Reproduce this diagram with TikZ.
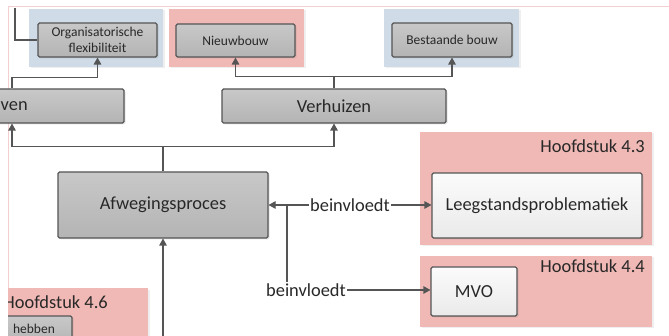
\documentclass[tikz,border=0pt]{standalone}
\usepackage{fontspec}
\setmainfont{Carlito}
\usepackage{tikz}
\usetikzlibrary{calc,positioning,arrows.meta,shadows}

\begin{document}
\begin{tikzpicture}[x=1pt,y=1pt,
  big/.style={font=\fontsize{18.4}{20}\selectfont},
  small/.style={font=\fontsize{13.5}{16}\selectfont},
  proc/.style={draw=lineColor,line width=1.1pt,rounded corners=1.5pt,top color=boxTop,bottom color=boxBot,text=textColor,inner sep=0pt,align=center,drop shadow={opacity=0.2,shadow xshift=1.5pt,shadow yshift=-1.5pt}},
  issue/.style={proc,top color=whiteTop,bottom color=whiteBot},
  area/.style={fill=#1,draw=none,inner sep=0pt,drop shadow={opacity=0.12,shadow xshift=1.5pt,shadow yshift=-1.5pt}},
  chap/.style={big,text=textColor,inner sep=0pt},
  conn/.style={draw=lineColor,line width=1.1pt},
  arr/.style={conn,-{Triangle[length=7pt,width=7.5pt]}}]
\definecolor{lineColor}{RGB}{85,85,85}
\definecolor{textColor}{RGB}{40,40,40}
\definecolor{boxTop}{RGB}{200,200,200}
\definecolor{boxBot}{RGB}{180,180,180}
\definecolor{whiteTop}{RGB}{251,251,251}
\definecolor{whiteBot}{RGB}{234,234,234}
\definecolor{pinkFill}{RGB}{240,185,181}
\definecolor{blueFill}{RGB}{207,219,230}
\definecolor{borderColor}{RGB}{243,208,208}
\path[use as bounding box,fill=white] (0,0) rectangle (669,336);
\begin{scope}
\path[clip] (0,0) rectangle (669,336);

\draw[borderColor,line width=1pt] (8,-20) -- (8,329) -- (700,329);

\node[area=blueFill,minimum width=134,minimum height=58] (regOrg) at (96,298) {};

\node[area=pinkFill,minimum width=135,minimum height=58] (regNieuw) at (236.5,298) {};

\node[area=blueFill,minimum width=135,minimum height=58] (regBest) at (451.5,298) {};

\node[area=pinkFill,minimum width=232,minimum height=113] (reg43) at (536,147.5) {};

\node[area=pinkFill,minimum width=232,minimum height=71] (reg44) at (536,44.5) {};

\node[proc,small,minimum width=119,minimum height=34] (org) at (97.5,296) {Organisatorische\\flexibiliteit};

\node[proc,small,minimum width=119,minimum height=33] (nieuw) at (235.5,295.5) {Nieuwbouw};

\node[proc,small,minimum width=120,minimum height=34] (best) at (452,296) {Bestaande bouw};

\node[proc,minimum width=224,minimum height=34] (ven) at (12,230) {};
\node[big,text=textColor,inner sep=0pt,anchor=west] (venText) at (0.5,230) {ven};

\node[proc,big,minimum width=224,minimum height=34] (verh) at (334,230) {Verhuizen};

\node[proc,big,minimum width=210,minimum height=66] (afweg) at (163,131) {Afwegingsproces};

\node[issue,big,minimum width=210,minimum height=65] (leeg) at (537,130.5) {Leegstandsproblematiek};

\node[issue,big,minimum width=86,minimum height=49] (mvo) at (474,44.5) {MVO};

\node[chap,anchor=east] (h43) at (645,190) {Hoofdstuk 4.3};

\node[chap,anchor=east] (h44) at (645,70) {Hoofdstuk 4.4};

\node[big,text=textColor,inner sep=1pt] (l1) at (350,131) {beinvloedt};

\node[big,text=textColor,inner sep=1pt] (l2) at (306,46) {beinvloedt};

\coordinate (tl) at (15,328);
\coordinate (jn) at (287,131);
\coordinate (bot) at (163,-5);

\draw[conn] (tl) |- (org.west);

\draw[arr] (ven.north) -- ++(0,11) -| (org.south);

\draw[arr] (verh.north) -- ++(0,12) -| (nieuw.south);

\draw[arr] (verh.north) -- ++(0,12) -| (best.south);

\draw[arr] (afweg.north) -- ++(0,25) -| (ven.south);

\draw[arr] (afweg.north) -- ++(0,25) -| (verh.south);

\draw[arr] (bot) -- (afweg.south);

\draw[arr] (l1.west) -- (afweg.east);

\draw[arr] (l1.east) -- (l1.east -| leeg.west);

\draw[conn] (jn) -- (jn |- l2.north);

\draw[arr] (l2.east) -- (l2.east -| mvo.west);

\begin{scope}
\path[clip] (8,-20) rectangle (200,60);

\node[area=pinkFill,minimum width=140,minimum height=70,anchor=north west] (reg46) at (8,48) {};

\node[chap,anchor=east] (h46) at (108,34) {Hoofdstuk 4.6};

\node[proc,small,minimum width=76,minimum height=28] (hebben) at (34,6) {};
\node[small,text=textColor,inner sep=0pt] (hebbenText) at (34,7.5) {hebben};
\end{scope}
\end{scope}
\end{tikzpicture}
\end{document}
